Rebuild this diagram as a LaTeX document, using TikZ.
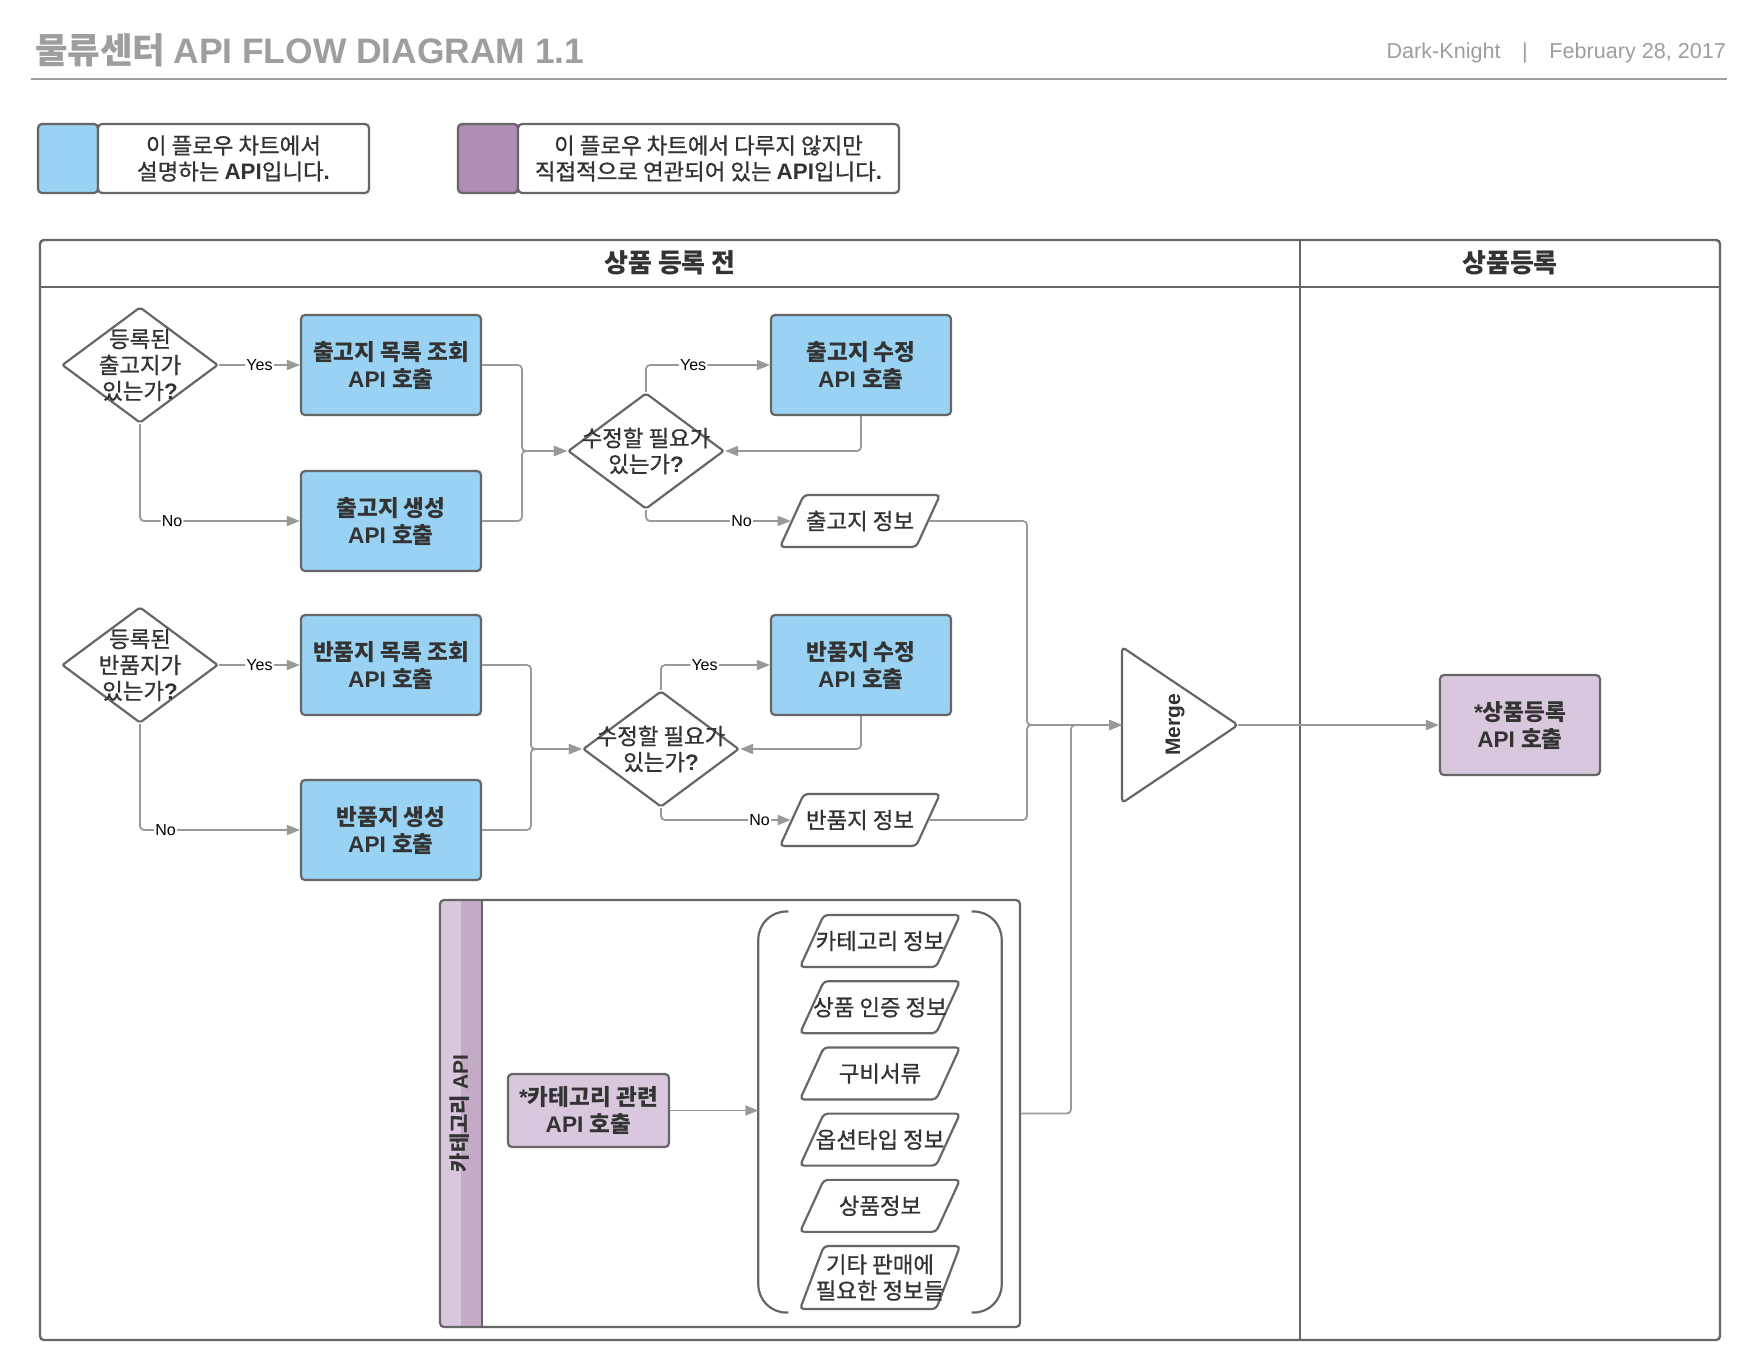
\documentclass[tikz,border=0pt]{standalone}
\usepackage{fontspec}
\setmainfont{Liberation Sans}
\newfontfamily\hangul[UprightFeatures={FakeBold=0.8}]{Noto Sans CJK KR}
% Hangul syllables switch to the Korean font by themselves
\newcommand\koreanfont{\hangul}
\newcommand\latinfont{\rmfamily}
\XeTeXinterchartokenstate=1
\newXeTeXintercharclass\hangulclass
\newcount\hgcode
\hgcode="AC00
\loop
  \XeTeXcharclass\hgcode=\hangulclass
  \advance\hgcode by 1
\ifnum\hgcode<"D7A4 \repeat
\XeTeXinterchartoks 0 \hangulclass = {\koreanfont}
\XeTeXinterchartoks 4095 \hangulclass = {\koreanfont}
\XeTeXinterchartoks \hangulclass 0 = {\latinfont}
\XeTeXinterchartoks 4095 0 = {\latinfont}
\usepackage{tikz}
\usetikzlibrary{arrows.meta,calc,shapes.geometric,positioning,fit}

\definecolor{apiblue}{RGB}{153,210,242}
\definecolor{extlight}{RGB}{217,200,221}
\definecolor{extmid}{RGB}{197,170,200}
\definecolor{extdark}{RGB}{176,142,180}
\definecolor{edge}{RGB}{102,102,102}
\definecolor{wire}{RGB}{153,153,153}
\definecolor{ink}{RGB}{51,51,51}
\definecolor{headgray}{RGB}{158,158,158}

\begin{document}
\begin{tikzpicture}[
		x=0.5pt, y=-0.5pt,
		api/.style={draw=edge, fill=apiblue, line width=1.1pt, rounded corners=2pt, minimum width=90pt, minimum height=50pt, align=center, text=ink, font=\fontsize{11.3}{13.5}\selectfont\bfseries},
		ext/.style={api, fill=extlight},
		ask/.style={diamond, draw=edge, fill=white, line width=1.1pt, rounded corners=1pt, minimum width=78pt, minimum height=58pt, inner sep=0pt},
		info/.style={trapezium, trapezium left angle=78, trapezium right angle=102, trapezium stretches=true, draw=edge, fill=white, line width=1.1pt, rounded corners=2pt, minimum width=80pt, minimum height=26pt, inner sep=2pt},
		midtext/.style={font=\fontsize{11.2}{13}\selectfont\bfseries\def\koreanfont{\hangul\mdseries}\def\latinfont{\rmfamily\bfseries}},
		intext/.style={align=center, text=ink, midtext},
		arr/.style={-{Triangle[length=6.5pt, width=5pt]}, draw=wire, line width=0.9pt, rounded corners=2pt},
		lbl/.style={fill=white, inner sep=0.6pt, text=black, font=\fontsize{8}{9}\selectfont},
		lane/.style={draw=edge, line width=1.2pt, rounded corners=2pt},
		lanehead/.style={text=ink, font=\fontsize{13}{15}\selectfont\bfseries},
		swatch/.style={draw=edge, line width=1.1pt, rounded corners=2pt, minimum width=30pt, minimum height=34.5pt},
		keytext/.style={draw=edge, fill=white, line width=1.1pt, rounded corners=2pt, minimum height=34.5pt, align=center, text=ink, midtext},
		grp/.style={draw=edge, line width=1.1pt, rounded corners=14pt}
	]
	\fill[white] (0,0) rectangle (1760,1360);

	% heading
	\node[anchor=west, text=headgray, font=\fontsize{17.7}{20}\selectfont\bfseries] (heading) at (28,50) {물류센터 API FLOW DIAGRAM 1.1};
	\node[anchor=east, text=headgray, font=\fontsize{10.8}{13}\selectfont] (byline) at (1733,53) {Dark-Knight\quad|\quad February 28, 2017};
	\draw[headgray, line width=1pt] (31,79) -- (1727,79);

	% legend
	\node[swatch, fill=apiblue] (key1) at (68,158.5) {};
	\node[keytext, minimum width=135.5pt] (key1txt) at (233.5,158.5) {이 플로우 차트에서\\설명하는 API입니다.};
	\node[swatch, fill=extdark] (key2) at (488,158.5) {};
	\node[keytext, minimum width=190.5pt] (key2txt) at (708.5,158.5) {이 플로우 차트에서 다루지 않지만\\직접적으로 연관되어 있는 API입니다.};

	% lanes
	\draw[lane] (40,240) rectangle (1720,1340);
	\draw[lane] (40,287) -- (1720,287);
	\draw[lane] (1300,240) -- (1300,1340);
	\node[lanehead] (before) at (670,263) {상품 등록 전};
	\node[lanehead] (after) at (1510,263) {상품등록};

	% 출고지
	\node[ask, label={[intext]center:{등록된\\출고지가\\있는가?}}] (hasout) at (140,365) {};
	\node[api] (outlist) at (391,365) {출고지 목록 조회\\API 호출};
	\node[api] (outnew) at (391,521) {출고지 생성\\API 호출};
	\node[ask, label={[intext]center:{수정할 필요가\\있는가?}}] (fixout) at (646,451) {};
	\node[api] (outmod) at (861,365) {출고지 수정\\API 호출};
	\node[info, label={[intext]center:출고지 정보}] (outinfo) at (860,521) {};

	% 반품지
	\node[ask, label={[intext]center:{등록된\\반품지가\\있는가?}}] (hasret) at (140,665) {};
	\node[api] (retlist) at (391,665) {반품지 목록 조회\\API 호출};
	\node[api] (retnew) at (391,830) {반품지 생성\\API 호출};
	\node[ask, label={[intext]center:{수정할 필요가\\있는가?}}] (fixret) at (661,749) {};
	\node[api] (retmod) at (861,665) {반품지 수정\\API 호출};
	\node[info, label={[intext]center:반품지 정보}] (retinfo) at (860,820) {};

	% merge and 상품등록
	\coordinate (mergein) at (1122,725);
	\coordinate (mergeout) at (1238,725);
	\draw[draw=edge, fill=white, line width=1.1pt, rounded corners=2pt] (1122,647) -- (mergeout) -- (1122,803) -- cycle;
	\node[rotate=90, text=ink, font=\fontsize{10.5}{12}\selectfont\bfseries] (merge) at (1175,725) {Merge};
	\node[ext, minimum width=80pt] (reg) at (1520,725) {*상품등록\\API 호출};

	% 카테고리 API pool
	\fill[extlight, rounded corners=2pt] (440,900) rectangle (470,1327);
	\fill[extmid] (461,900) rectangle (482,1327);
	\node[draw=edge, line width=1.1pt, rounded corners=2pt, minimum width=290pt, minimum height=213.5pt] (catpool) at (730,1113.5) {};
	\draw[draw=edge, line width=1.1pt] (482,900) -- (482,1327);
	\node[rotate=90, text=ink, font=\fontsize{10.5}{12}\selectfont\bfseries] (poolname) at (460,1113.5) {카테고리 API};
	\node[ext, minimum width=80.5pt, minimum height=36.5pt] (catapi) at (588.5,1110.5) {*카테고리 관련\\API 호출};

	\node[info, label={[intext]center:카테고리 정보}] (c1) at (880,941) {};
	\node[info, below=6pt of c1, label={[intext]center:상품 인증 정보}] (c2) {};
	\node[info, below=6pt of c2, label={[intext]center:구비서류}] (c3) {};
	\node[info, below=6pt of c3, label={[intext]center:옵션타입 정보}] (c4) {};
	\node[info, below=6pt of c4, label={[intext]center:상품정보}] (c5) {};
	\node[info, below=6pt of c5, minimum height=31.5pt, label={[intext]center:{기타 판매에\\필요한 정보들}}] (c6) {};
	\node[fit=(c1)(c6), inner xsep=26pt, inner ysep=1pt] (infos) {};
	\draw[grp] ($(infos.north west)+(30,0)$) -- (infos.north west) -- (infos.south west) -- ($(infos.south west)+(30,0)$);
	\draw[grp] ($(infos.north east)+(-30,0)$) -- (infos.north east) -- (infos.south east) -- ($(infos.south east)+(-30,0)$);

	% connectors
	\draw[arr] (hasout) -- node[lbl] {Yes} (outlist);
	\draw[arr] (hasout) |- node[lbl, pos=0.6] {No} (outnew);
	\draw[arr] (outlist) -| ($(fixout.west)+(-45,0)$) -- (fixout);
	\draw[arr] (outnew) -| ($(fixout.west)+(-45,0)$) -- (fixout);
	\draw[arr] (fixout) |- node[lbl, pos=0.69] {Yes} (outmod);
	\draw[arr] (outmod) |- (fixout);
	\draw[arr] (fixout) |- node[lbl, pos=0.83] {No} (outinfo);

	\draw[arr] (hasret) -- node[lbl] {Yes} (retlist);
	\draw[arr] (hasret) |- node[lbl, pos=0.58] {No} (retnew);
	\draw[arr] (retlist) -| ($(fixret.west)+(-51,0)$) -- (fixret);
	\draw[arr] (retnew) -| ($(fixret.west)+(-51,0)$) -- (fixret);
	\draw[arr] (fixret) |- node[lbl, pos=0.7] {Yes} (retmod);
	\draw[arr] (retmod) |- (fixret);
	\draw[arr] (fixret) |- node[lbl, pos=0.88] {No} (retinfo);

	\draw[arr] (outinfo) -| ($(mergein)+(-95,0)$) -- (mergein);
	\draw[arr] (retinfo) -| ($(mergein)+(-95,0)$) -- (mergein);
	\draw[arr] (catpool) -| ($(mergein)+(-51,0)$) -- (mergein);
	\draw[arr] (mergeout) -- (reg);
	\draw[arr] (catapi) -- (catapi -| infos.west);
\end{tikzpicture}
\end{document}
